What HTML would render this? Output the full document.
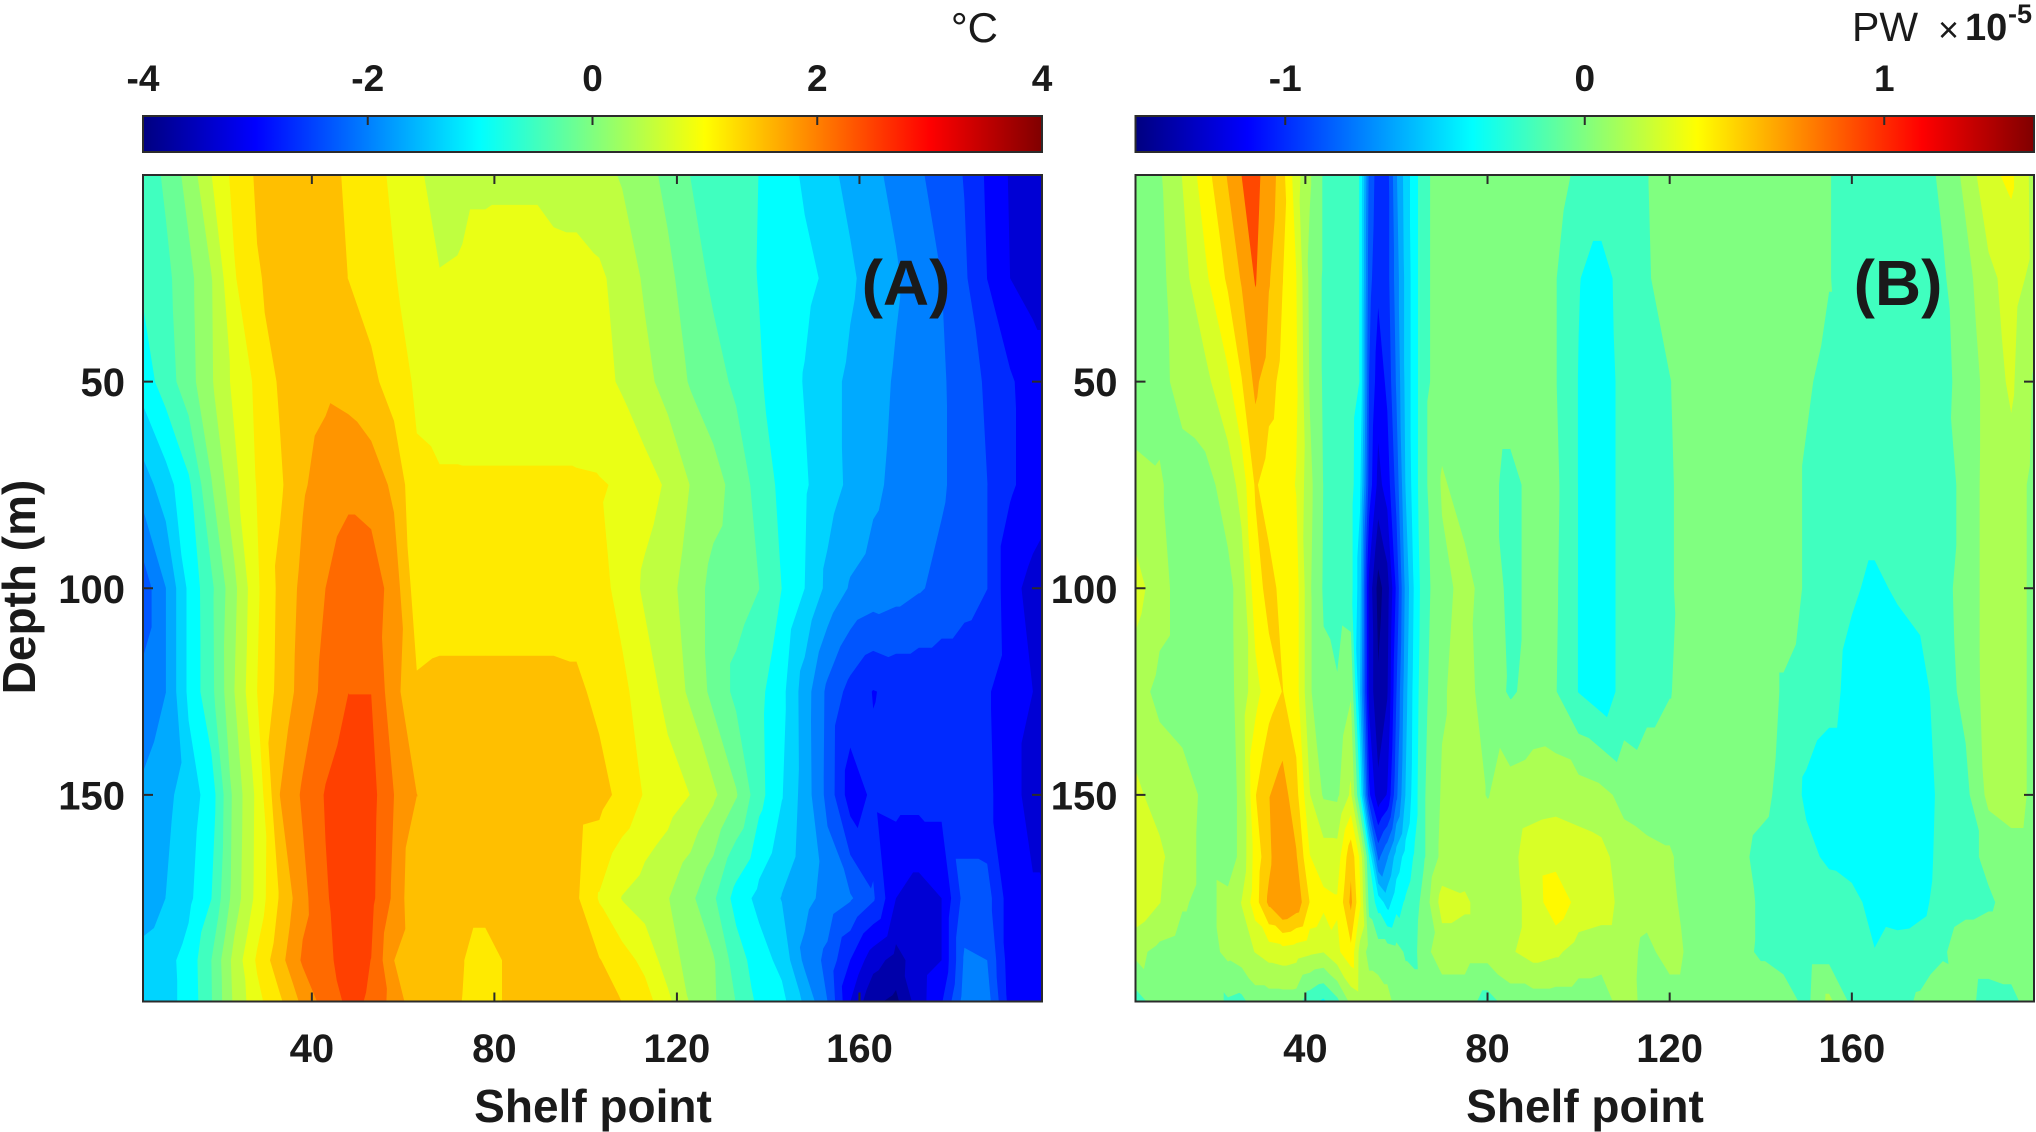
<!DOCTYPE html>
<html lang="en">
<head>
<meta charset="utf-8">
<title>Shelf point vs depth: temperature and heat transport anomalies</title>
<style>
html,body{margin:0;padding:0;background:#fff;}
svg{display:block;}
text{font-family:"Liberation Sans",Arial,sans-serif;fill:#1a1a1a;}
.b{font-weight:700;}
</style>
</head>
<body>
<svg id="chart" xmlns="http://www.w3.org/2000/svg" width="2036" height="1132" viewBox="0 0 2036 1132">
  <defs>
    <linearGradient id="jet" x1="0" x2="1" y1="0" y2="0">
      <stop offset="0" stop-color="rgb(0,0,128)"/>
      <stop offset="0.125" stop-color="rgb(0,0,255)"/>
      <stop offset="0.375" stop-color="rgb(0,255,255)"/>
      <stop offset="0.625" stop-color="rgb(255,255,0)"/>
      <stop offset="0.875" stop-color="rgb(255,0,0)"/>
      <stop offset="1" stop-color="rgb(128,0,0)"/>
    </linearGradient>
  </defs>

  <g id="panelA"></g>
  <g id="panelB"></g>

  <text class="b" font-size="46" text-anchor="middle" transform="translate(35,587) rotate(-90)">Depth (m)</text>
  <text class="b" font-size="46" text-anchor="middle" x="593" y="1122">Shelf point</text>
  <text class="b" font-size="46" text-anchor="middle" x="1585" y="1122">Shelf point</text>
  <text class="b" font-size="64" text-anchor="middle" x="906" y="305">(A)</text>
  <text class="b" font-size="64" text-anchor="middle" x="1898" y="305">(B)</text>
  <text font-size="42" text-anchor="end" x="998" y="42">°C</text>
  <text font-size="41" x="1852" y="41">PW</text>
  <text font-size="36" x="1938" y="42">×</text>
  <text class="b" font-size="38" x="1965" y="40">10</text>
  <text class="b" font-size="27" x="2008" y="23">-5</text>
</svg>

<script>
// ---------- Panel A: temperature anomaly (°C) ----------
const shelfPointsA = [3,8,13,18,23,28,33,38,43,48,53,58,63,68,73,78,83,88,93,98,103,108,113,118,123,128,133,138,143,148,153,158,163,168,173,178,183,188,193,198,200];
const depthsA = [0,25,50,75,100,125,150,175,190,200];
const tempAt0m   = [-.55,-.27,.13,.66,1.1,1.38,1.5,1.55,1.45,1.28,1.12,.94,.72,.55,.6,.6,.6,.6,.5,.5,.45,.3,.12,-.09,-.34,-.45,-.56,-.67,-.85,-1.05,-1.25,-1.42,-1.6,-1.75,-1.95,-2.15,-2.35,-2.72,-3.03,-3.1,-3.1];
const tempAt25m  = [-.6,-.42,-.1,.32,.97,1.31,1.42,1.48,1.45,1.33,1.17,1.02,.85,.68,.7,.8,.83,.83,.83,.8,.72,.55,.28,.08,-.17,-.4,-.53,-.68,-.8,-.92,-1.05,-1.28,-1.47,-1.63,-1.82,-2,-2.28,-2.67,-3,-3.1,-3.1];
const tempAt50m  = [-.85,-.5,-.14,.3,.75,1.07,1.38,1.52,1.6,1.55,1.42,1.17,.95,.88,.87,.87,.87,.87,.87,.85,.78,.62,.43,.2,-.03,-.2,-.4,-.63,-.83,-1.02,-1.22,-1.4,-1.55,-1.7,-1.83,-1.96,-2.15,-2.39,-2.62,-2.85,-2.9];
const tempAt75m  = [-1.5,-1.15,-.73,-.02,.57,1.02,1.28,1.63,1.8,1.92,1.85,1.6,1.05,1.03,1.03,1.03,1.03,1.03,1.03,1.03,1.02,.97,.8,.62,.32,.13,-.12,-.47,-.75,-.96,-1.19,-1.4,-1.6,-1.74,-1.85,-1.96,-2.13,-2.33,-2.62,-2.8,-2.85];
const tempAt100m = [-2.2,-1.67,-.93,-.4,.25,.95,1.42,1.75,2,2.2,2.2,1.85,1.15,1.17,1.17,1.17,1.17,1.17,1.17,1.17,1.1,.9,.6,.45,.17,-.1,-.2,-.33,-.67,-1,-1.42,-1.7,-1.8,-1.87,-1.97,-2.08,-2.2,-2.33,-2.9,-3.1,-3.15];
const tempAt125m = [-1.9,-1.67,-.93,-.42,.33,1,1.45,1.8,2.1,2.33,2.33,1.78,1.38,1.42,1.42,1.42,1.42,1.42,1.42,1.4,1.25,1.07,.85,.55,.27,-.1,-.42,-.58,-.9,-1.5,-2.08,-2.45,-2.68,-2.6,-2.6,-2.6,-2.6,-2.63,-2.85,-3,-3.05];
const tempAt150m = [-1.6,-1.42,-1.18,-.83,.1,.75,1.67,2.05,2.36,2.55,2.45,2,1.67,1.55,1.52,1.52,1.52,1.52,1.5,1.48,1.45,1.24,.97,.83,.66,.4,.03,-.55,-.98,-1.48,-2.1,-2.85,-2.6,-2.55,-2.55,-2.55,-2.55,-2.6,-2.85,-3.15,-3.2];
const tempAt175m = [-1.55,-1.33,-1.08,-.67,.15,.77,1.37,1.9,2.3,2.52,2.42,1.93,1.35,1.5,1.5,1.5,1.5,1.5,1.5,1.38,.97,.65,.5,.35,.07,-.28,-.8,-1.1,-1.35,-1.57,-1.77,-1.96,-2.28,-3,-3.15,-3,-2.2,-2.2,-2.85,-2.95,-2.95];
const tempAt190m = [-1.2,-1.1,-.88,-.33,.45,1.05,1.55,2.05,2.27,2.45,2.33,1.67,1.4,1.45,1.35,1.15,1.4,1.5,1.5,1.45,1.35,1.15,.9,.5,.2,.03,-.5,-.85,-1.1,-1.75,-2.1,-2.67,-3.2,-3.45,-3.17,-3,-1.95,-2,-2.85,-2.95,-2.95];
const tempAt200m = [-1.1,-1.1,-.9,-.35,.4,.9,1.28,1.75,2.15,2.4,2.3,1.85,1.45,1.4,1.33,1.15,1.4,1.5,1.5,1.5,1.45,1.33,1.15,.75,.3,.05,-.35,-.75,-.9,-1.4,-2,-3,-3.6,-3.75,-3.15,-2.7,-1.85,-1.85,-2.8,-2.9,-2.9];
const tempRows = [tempAt0m,tempAt25m,tempAt50m,tempAt75m,tempAt100m,tempAt125m,tempAt150m,tempAt175m,tempAt190m,tempAt200m];

// ---------- Panel B: heat transport anomaly (×10^-5 PW) ----------
const shelfPointsB = [2.7,8,13,18,23,26,29,32,35,38,41,44,47,50,52,54,56,58,60,62,64,66,70,75,80,85,90,95,100,105,110,115,120,125,130,135,140,145,150,155,160,165,170,175,180,185,190,195,200];
const depthsB = [0,25,50,75,100,125,150,165,176,188,200];
const pwAt0m   = [-.02,.05,.2,.4,.6,.85,.95,.68,.5,.25,.08,-.08,-.13,-.15,-.2,-.75,-.92,-.9,-.6,-.4,-.25,-.1,0,0,0,0,0,0,-.1,-.1,-.1,-.07,0,0,0,0,0,0,0,-.06,-.12,-.12,-.12,-.12,-.04,.1,.3,.35,.15];
const pwAt25m  = [0,.03,.15,.3,.48,.6,.87,.6,.46,.33,.03,-.08,-.13,-.15,-.2,-.8,-.95,-.9,-.65,-.42,-.25,-.1,0,0,0,0,0,-.06,-.19,-.25,-.14,-.08,0,0,0,0,0,0,0,-.06,-.12,-.12,-.12,-.12,-.08,.02,.16,.25,.16];
const pwAt50m  = [0,.02,.12,.16,.3,.45,.62,.5,.42,.35,.05,-.08,-.13,-.14,-.2,-.85,-1.05,-.95,-.7,-.42,-.25,-.1,0,0,0,0,-.02,-.06,-.2,-.27,-.15,-.1,-.07,0,0,0,0,0,-.05,-.1,-.1,-.1,-.1,-.1,-.09,-.03,.12,.22,.05];
const pwAt75m  = [.1,.08,0,.02,.12,.25,.47,.4,.38,.32,.1,-.07,-.13,-.15,-.3,-.9,-1.15,-1.05,-.8,-.45,-.25,-.1,.08,.02,-.03,-.1,-.03,-.04,-.2,-.27,-.15,-.11,-.08,0,0,0,0,0,-.08,-.13,-.13,-.13,-.13,-.13,-.13,-.02,.12,.14,.03];
const pwAt100m = [.25,.12,0,0,.03,.12,.4,.5,.42,.38,.08,-.08,-.13,-.15,-.4,-1.15,-1.42,-1.3,-.95,-.55,-.3,-.12,.03,.1,.02,-.1,-.03,-.05,-.2,-.27,-.15,-.12,-.08,0,0,0,0,0,-.08,-.13,-.18,-.22,-.18,-.15,-.1,-.02,.12,.14,.03];
const pwAt125m = [.12,.03,0,0,.02,.12,.28,.4,.46,.38,.08,-.04,-.05,.05,-.45,-1.15,-1.35,-1.25,-.85,-.5,-.27,-.1,.05,.12,0,-.08,-.03,-.06,-.2,-.27,-.15,-.1,-.07,-.02,0,0,0,-.08,-.12,-.15,-.24,-.28,-.28,-.25,-.12,-.03,.12,.14,.03];
const pwAt150m = [.22,.15,.12,.04,0,.1,.45,.58,.65,.5,.2,.05,.04,.22,-.2,-.95,-1.2,-1.1,-.75,-.45,-.25,-.08,.08,.12,.06,.12,.14,.15,.13,.1,.03,0,0,0,0,0,-.03,-.1,-.22,-.28,-.28,-.28,-.28,-.28,-.15,-.1,.1,.14,.03];
const pwAt165m = [.3,.22,.12,.03,0,.1,.38,.55,.75,.6,.33,.26,.26,.55,.3,-.2,-.75,-.6,-.4,-.28,-.18,-.08,.1,.12,.14,.16,.26,.28,.26,.24,.12,.1,.08,0,0,-.03,-.1,-.13,-.16,-.22,-.27,-.27,-.27,-.27,-.14,-.1,-.04,0,0];
const pwAt176m = [.3,.2,.08,.03,.1,.2,.4,.62,.76,.68,.45,.36,.34,.62,.35,-.1,-.25,-.38,-.25,-.18,-.12,-.02,.25,.22,.12,.14,.25,.42,.28,.26,.15,.12,.1,0,0,-.02,-.08,-.13,-.13,-.13,-.14,-.26,-.28,-.24,-.13,-.1,-.08,-.03,0];
const pwAt188m = [.1,.03,0,0,.1,.14,.2,.25,.27,.25,.22,.2,.3,.42,.15,.02,0,0,-.02,-.08,-.1,.03,.12,.12,.12,.18,.25,.22,.14,.12,.12,.03,.12,.03,0,-.03,-.08,-.12,-.12,-.12,-.13,-.19,-.13,-.12,-.08,0,0,0,0];
const pwAt200m = [-.12,0,0,0,-.08,-.1,0,0,0,0,-.15,-.22,-.1,.1,.14,.14,.14,.1,.03,0,0,0,0,0,-.12,0,0,0,0,0,.13,.02,0,0,0,0,0,0,-.1,.1,-.1,-.1,-.1,-.05,0,-.02,-.12,-.1,0];
const pwRows = [pwAt0m,pwAt25m,pwAt50m,pwAt75m,pwAt100m,pwAt125m,pwAt150m,pwAt165m,pwAt176m,pwAt188m,pwAt200m];

// ---------- Tick values ----------
const shelfTicks = [40,80,120,160];
const depthTicks = [50,100,150];
const colorTicksA = [-4,-2,0,2,4];
const colorTicksB = [-1,0,1];

const SVG_NS = 'http://www.w3.org/2000/svg';
const INK = '#2b2b2b';

function jet(t){
  const c = function(x){ return Math.round(255*Math.max(0,Math.min(1,x))); };
  const r = c(Math.min(4*t-1.5, 4.5-4*t));
  const g = c(Math.min(4*t-0.5, 3.5-4*t));
  const b = c(Math.min(4*t+0.5, 2.5-4*t));
  return 'rgb('+r+','+g+','+b+')';
}

function bandToneA(k){
  return k <= 9 ? k/24 : (k+0.5)/24;
}

function bandToneB(k){
  if(k <= 9) return k/24;
  if(k === 10) return 0.4375;
  if(k === 16 || k === 17) return 0.72;
  return (k+0.5)/23;
}

function clipTriangle(tri, level){
  const out = [];
  for(let i=0;i<tri.length;i++){
    const p = tri[i], q = tri[(i+1)%tri.length];
    const pIn = p[2] >= level, qIn = q[2] >= level;
    if(pIn) out.push(p);
    if(pIn !== qIn){
      const f = (level-p[2])/(q[2]-p[2]);
      out.push([p[0]+f*(q[0]-p[0]), p[1]+f*(q[1]-p[1]), level]);
    }
  }
  return out;
}

function polyToPath(poly){
  if(poly.length < 3) return '';
  let s = '';
  for(let i=0;i<poly.length;i++){
    s += (i ? 'L' : 'M') + poly[i][0].toFixed(1) + ' ' + poly[i][1].toFixed(1);
  }
  return s + 'Z';
}

function drawPanel(parent, cfg){
  const xScale = function(v){ return cfg.left + (v-cfg.xMin)/(cfg.xMax-cfg.xMin)*(cfg.right-cfg.left); };
  const yScale = function(v){ return cfg.top + (v-0)/(200-0)*(cfg.bottom-cfg.top); };
  const cScale = function(v){ return cfg.left + (v-cfg.vMin)/(cfg.vMax-cfg.vMin)*(cfg.right-cfg.left); };

  // Filled contour bands
  const step = (cfg.vMax-cfg.vMin)/cfg.bands;
  for(let k=0;k<cfg.bands;k++){
    const level = k===0 ? -Infinity : cfg.vMin + k*step;
    let d = '';
    for(let j=0;j<cfg.ys.length-1;j++){
      for(let i=0;i<cfg.xs.length-1;i++){
        const a=[xScale(cfg.xs[i]),yScale(cfg.ys[j]),cfg.rows[j][i]];
        const b=[xScale(cfg.xs[i+1]),yScale(cfg.ys[j]),cfg.rows[j][i+1]];
        const c=[xScale(cfg.xs[i+1]),yScale(cfg.ys[j+1]),cfg.rows[j+1][i+1]];
        const e=[xScale(cfg.xs[i]),yScale(cfg.ys[j+1]),cfg.rows[j+1][i]];
        d += polyToPath(clipTriangle([a,b,c],level));
        d += polyToPath(clipTriangle([a,c,e],level));
      }
    }
    if(d){
      const band = document.createElementNS(SVG_NS,'path');
      band.setAttribute('d',d);
      band.setAttribute('fill',jet(cfg.tone(k)));
      
      
      parent.appendChild(band);
    }
  }

  // Plot frame
  const frame = document.createElementNS(SVG_NS,'rect');
  frame.setAttribute('x',cfg.left);
  frame.setAttribute('y',cfg.top);
  frame.setAttribute('width',cfg.right-cfg.left);
  frame.setAttribute('height',cfg.bottom-cfg.top);
  frame.setAttribute('fill','none');
  frame.setAttribute('stroke',INK);
  frame.setAttribute('stroke-width','2');
  
  
  parent.appendChild(frame);

  // X ticks and labels
  shelfTicks.forEach(function(v){
    const x = xScale(v);
    const tick = document.createElementNS(SVG_NS,'path');
    tick.setAttribute('d','M'+x+' '+cfg.top+'v9M'+x+' '+cfg.bottom+'v-9');
    tick.setAttribute('stroke',INK);
    tick.setAttribute('stroke-width','2');
    
    
    parent.appendChild(tick);
    const label = document.createElementNS(SVG_NS,'text');
    label.setAttribute('x',x);
    label.setAttribute('y',1062);
    label.setAttribute('text-anchor','middle');
    label.setAttribute('font-size','40');
    label.setAttribute('class','b');
    label.textContent = String(v);
    
    
    parent.appendChild(label);
  });

  // Y ticks and labels
  depthTicks.forEach(function(v){
    const y = yScale(v);
    const tick = document.createElementNS(SVG_NS,'path');
    tick.setAttribute('d','M'+cfg.left+' '+y+'h10M'+cfg.right+' '+y+'h-10');
    tick.setAttribute('stroke',INK);
    tick.setAttribute('stroke-width','2');
    
    
    parent.appendChild(tick);
    const label = document.createElementNS(SVG_NS,'text');
    label.setAttribute('x',cfg.left-18);
    label.setAttribute('y',y+14.5);
    label.setAttribute('text-anchor','end');
    label.setAttribute('font-size','40');
    label.setAttribute('class','b');
    label.textContent = String(v);
    
    
    parent.appendChild(label);
  });

  // Colorbar
  const bar = document.createElementNS(SVG_NS,'rect');
  bar.setAttribute('x',cfg.left);
  bar.setAttribute('y',116);
  bar.setAttribute('width',cfg.right-cfg.left);
  bar.setAttribute('height',36);
  bar.setAttribute('fill','url(#jet)');
  bar.setAttribute('stroke',INK);
  bar.setAttribute('stroke-width','2');
  
  
  parent.appendChild(bar);

  cfg.colorTicks.forEach(function(v){
    const x = cScale(v);
    const tick = document.createElementNS(SVG_NS,'path');
    tick.setAttribute('d','M'+x+' 116v9');
    tick.setAttribute('stroke',INK);
    tick.setAttribute('stroke-width','2');
    
    
    parent.appendChild(tick);
    const label = document.createElementNS(SVG_NS,'text');
    label.setAttribute('x',x);
    label.setAttribute('y',91);
    label.setAttribute('text-anchor','middle');
    label.setAttribute('font-size','37');
    label.setAttribute('class','b');
    label.textContent = String(v);
    
    
    parent.appendChild(label);
  });
}

drawPanel(document.getElementById('panelA'),{
  left:143,right:1042,top:175,bottom:1001.5,
  xMin:3,xMax:200,vMin:-4,vMax:4,bands:24,tone:bandToneA,
  xs:shelfPointsA,ys:depthsA,rows:tempRows,colorTicks:colorTicksA
});
drawPanel(document.getElementById('panelB'),{
  left:1135.5,right:2034,top:175,bottom:1001.5,
  xMin:2.7,xMax:200,vMin:-1.5,vMax:1.5,bands:23,tone:bandToneB,
  xs:shelfPointsB,ys:depthsB,rows:pwRows,colorTicks:colorTicksB
});
</script>
</body>
</html>
